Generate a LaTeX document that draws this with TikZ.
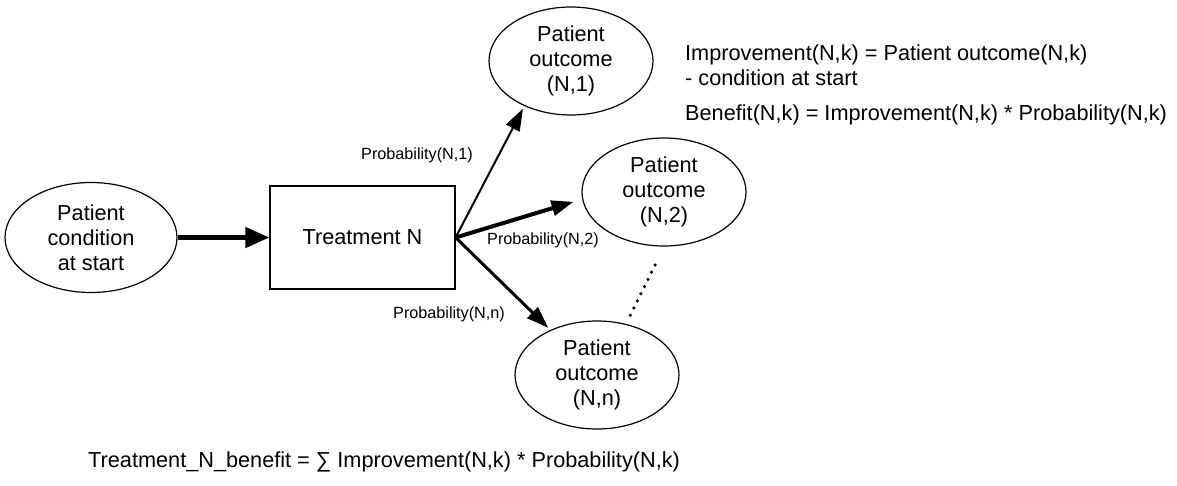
\documentclass[tikz,border=0pt]{standalone}
\usepackage{fontspec}
\setmainfont{Liberation Sans}
\usetikzlibrary{shapes.geometric,arrows.meta}
\begin{document}
\begin{tikzpicture}[x=1pt,y=-1pt,
  big/.style={font=\fontsize{21.7}{25}\selectfont},
  small/.style={font=\fontsize{16.2}{19}\selectfont},
  txt/.style={inner sep=0pt},
  oval/.style={draw,ellipse,line width=1.2pt,inner sep=0pt,minimum width=164pt,minimum height=108pt,align=center,big},
  treat/.style={draw,rectangle,line width=1.2pt,minimum width=185pt,minimum height=103pt,big},
  arr/.style={-{Triangle[length=22pt,width=15pt]}},
]
\useasboundingbox (0,0) rectangle (1177,485);
\node[oval,minimum width=172pt,minimum height=110pt] (start) at (91,237.5) {Patient\\condition\\at start};
\node[treat] (treat) at (362.5,237.5) {Treatment N};
\node[oval] (o1) at (571,61) {Patient\\outcome\\(N,1)};
\node[oval] (o2) at (664,192) {Patient\\outcome\\(N,2)};
\node[oval] (on) at (597,375) {Patient\\outcome\\(N,n)};
\draw[line width=4.5pt,-{Triangle[length=24pt,width=20pt]}] (start) -- (treat);
\draw[arr,line width=2pt,shorten >=3pt] (treat.east) -- (o1.224);
\draw[arr,line width=4pt,shorten >=9pt] (treat.east) -- (o2.185);
\draw[arr,line width=3pt,shorten >=3pt] (treat.east) -- (on.136);
\coordinate (d1) at (655,265);
\coordinate (d2) at (630,316);
\draw[line width=3.5pt,line cap=round,dash pattern=on 0pt off 8pt] (d1) -- (d2);
\node[small,txt,anchor=west] (p1) at (361,155) {Probability(N,1)};
\node[small,txt,anchor=west] (p2) at (487,240) {Probability(N,2)};
\node[small,txt,anchor=west] (pn) at (393,314) {Probability(N,n)};
\node[big,txt,anchor=west,align=left] (imp) at (685,65.5) {Improvement(N,k) = Patient outcome(N,k)\\- condition at start};
\node[big,txt,anchor=west] (ben) at (685,115) {Benefit(N,k) = Improvement(N,k) * Probability(N,k)};
\node[big,txt,anchor=west] (tot) at (88,462) {Treatment\_N\_benefit = ∑ Improvement(N,k) * Probability(N,k)};
\end{tikzpicture}
\end{document}
